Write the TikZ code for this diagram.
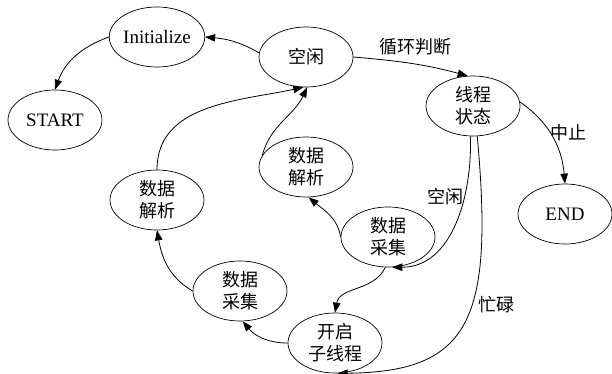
\documentclass[tikz,border=0pt]{standalone}
\usepackage{fontspec}
\setmainfont{Liberation Serif}
\newfontfamily\cjk{Noto Sans CJK SC}
\usetikzlibrary{shapes.geometric,arrows.meta}
\begin{document}
\begin{tikzpicture}[x=1pt,y=-1pt,
  st/.style={ellipse,draw,line width=0.7pt,minimum width=94pt,minimum height=60pt,inner sep=0pt,align=center,font=\fontsize{19}{22}\selectfont},
  zh/.style={font=\fontsize{18}{22}\selectfont\cjk},
  lab/.style={font=\fontsize{18}{22}\selectfont\cjk,inner sep=0pt},
  ar/.style={draw,line width=0.8pt,-{Triangle[length=10pt,width=7.5pt]}}]
\useasboundingbox (0,0) rectangle (612,374);
\node[st] (init) at (157,37) {Initialize};
\node[st] (start) at (55,120) {START};
\node[st,zh] (kx) at (306,57) {空闲};
\node[st,zh] (xc) at (473,106) {线程\\状态};
\node[st] (end) at (565,214) {END};
\node[st,zh] (jx1) at (306,167) {数据\\解析};
\node[st,zh] (cj1) at (388,237) {数据\\采集};
\node[st,zh] (jx2) at (157,200) {数据\\解析};
\node[st,zh] (cj2) at (240,291) {数据\\采集};
\node[st,zh] (kq) at (335,343) {开启\\子线程};
% edges
\path[ar] (kx.175) to[out=150,in=-5] (init.east);
\path[ar] (init.west) to[out=200,in=70] (start.north);
\path[ar] (kx.east) to[out=-5,in=165] (xc.100);
\path[ar] (xc.5) to[out=-35,in=95] (end.north);
\path[ar] (xc.265) to[out=-88,in=0] (cj1.-82);
\path[ar] (xc.278) .. controls (494,320) and (470,372) .. (kq.-85);
\path[ar] (cj1.-95) to[out=-115,in=80] (kq.north);
\path[ar] (kq.west) to[out=180,in=-50] (cj2.-85);
\path[ar] (cj2.west) to[out=150,in=-80] (jx2.south);
\path[ar] (jx2.north) to[out=90,in=192] (kx.-95);
\path[ar] (cj1.west) to[out=100,in=-40] (jx1.-85);
\path[ar] (jx1.165) to[out=75,in=-115] (kx.-88);
% edge labels
\node[lab] (l1) at (415,47) {循环判断};
\node[lab] (l2) at (568,133) {中止};
\node[lab] (l3) at (445,197) {空闲};
\node[lab] (l4) at (496,305) {忙碌};
\end{tikzpicture}
\end{document}
